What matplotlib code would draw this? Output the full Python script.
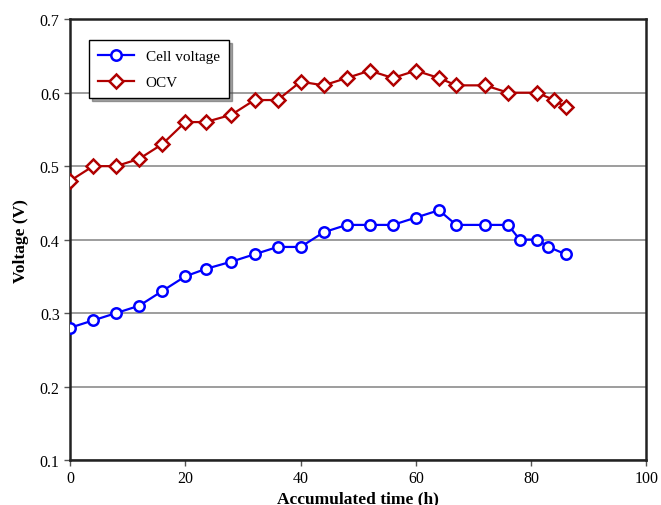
import matplotlib
matplotlib.use("Agg")
import matplotlib.pyplot as plt

# datos
t_cell = [0, 4, 8, 12, 16, 20, 23.5, 28, 32, 36, 40, 44, 48, 52, 56, 60, 64, 67, 72, 76, 78, 81, 83, 86]
v_cell = [0.28, 0.29, 0.30, 0.31, 0.33, 0.35, 0.36, 0.37, 0.38, 0.39, 0.39, 0.41, 0.42, 0.42,
          0.42, 0.43, 0.44, 0.42, 0.42, 0.42, 0.40, 0.40, 0.39, 0.38]
t_ocv = [0, 4, 8, 12, 16, 20, 23.5, 28, 32, 36, 40, 44, 48, 52, 56, 60, 64, 67, 72, 76, 81, 84, 86]
v_ocv = [0.48, 0.50, 0.50, 0.51, 0.53, 0.56, 0.56, 0.57, 0.59, 0.59, 0.615, 0.61, 0.62, 0.63,
         0.62, 0.63, 0.62, 0.61, 0.61, 0.60, 0.60, 0.59, 0.58]
x_ticks = [0, 20, 40, 60, 80, 100]
y_ticks = [0.1, 0.2, 0.3, 0.4, 0.5, 0.6, 0.7]

plt.rcParams["font.family"] = ["Liberation Serif", "DejaVu Serif"]

fig = plt.figure(figsize=(6.61, 5.06), dpi=100)
ax = fig.add_axes([0.106, 0.089, 0.872, 0.871])

ax.plot(t_cell, v_cell, color="#0000FF", marker="o", markersize=7.5, markerfacecolor="white",
        markeredgewidth=1.8, linewidth=1.6, label="Cell voltage", zorder=3)
ax.plot(t_ocv, v_ocv, color="#B00000", marker="D", markersize=7, markerfacecolor="white",
        markeredgewidth=1.8, linewidth=1.6, label="OCV", zorder=3)

ax.set_xlim(0, 100)
ax.set_ylim(0.1, 0.7)
ax.set_xticks(x_ticks)
ax.set_yticks(y_ticks)
ax.set_yticklabels([f"{v:.1f}" for v in y_ticks])
ax.tick_params(labelsize=11.5, direction="out", length=4, width=1, color="#555555")
ax.grid(axis="y", color="#8c8c8c", linewidth=1.2, zorder=1)
for s in ax.spines.values():
    s.set_linewidth(1.8)
    s.set_color("#222222")

ax.set_xlabel("Accumulated time (h)", fontsize=12.5, fontweight="bold", labelpad=3)
ax.set_ylabel("Voltage (V)", fontsize=12.5, fontweight="bold", labelpad=8)

leg = ax.legend(loc="upper left", bbox_to_anchor=(0.02, 0.97), fontsize=11, fancybox=False,
                shadow=True, framealpha=1, edgecolor="black", handlelength=2.3,
                borderpad=0.6, labelspacing=0.8)
leg.get_frame().set_linewidth(1.0)

plt.savefig("out.png", dpi=100)
plt.close()
